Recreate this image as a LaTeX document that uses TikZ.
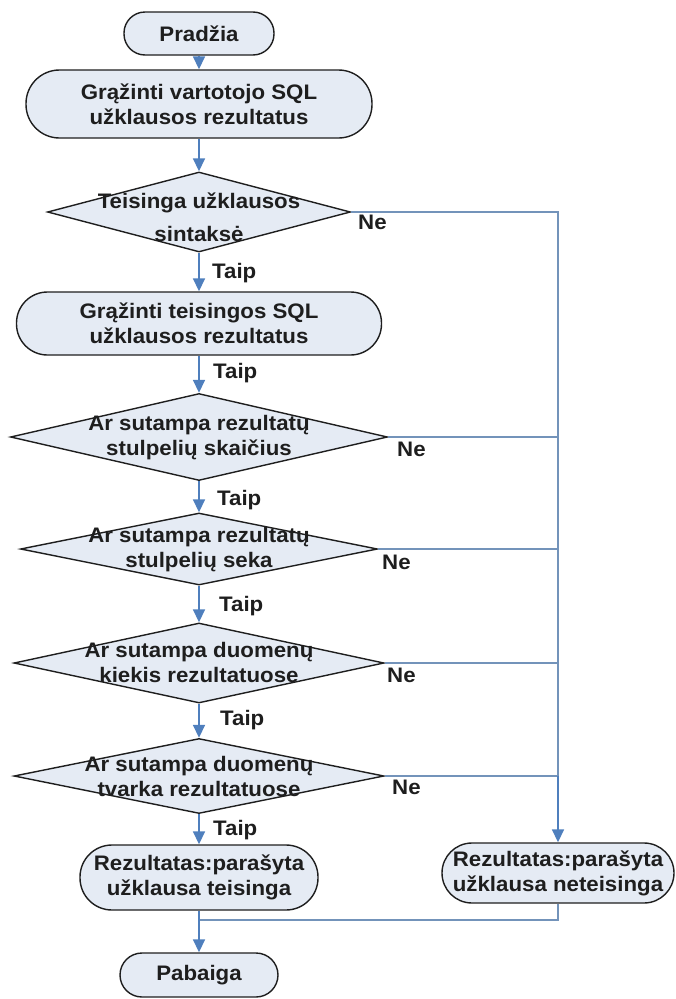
\documentclass[tikz,border=0pt]{standalone}
\usepackage{fontspec}
\setmainfont{Liberation Sans}[FakeStretch=1.06]
\usetikzlibrary{arrows.meta,shapes.geometric}

\definecolor{shapefill}{HTML}{E5EBF4}
\definecolor{flowblue}{HTML}{4F7FBD}
\definecolor{joinline}{HTML}{7393BA}
\definecolor{inkdark}{HTML}{1E1E1E}

\begin{document}
\begin{tikzpicture}[x=1pt,y=-1pt,
  every node/.style={font=\fontsize{21}{25}\selectfont\bfseries, text=inkdark},
  term/.style={draw=inkdark, line width=1.4pt, fill=shapefill, rectangle,
    rounded corners=#1, inner sep=0pt, align=center},
  dec/.style={draw=inkdark, line width=1.4pt, fill=shapefill, diamond,
    inner sep=0pt},
  dectext/.style={align=center, inner sep=0pt},
  lbl/.style={anchor=base west, inner sep=0pt},
  flow/.style={draw=flowblue, line width=1.7pt,
    -{Triangle[length=13pt,width=12pt]}},
  branchline/.style={draw=joinline, line width=1.3pt},
]
\useasboundingbox (0,0) rectangle (675,999);

% terminals and process boxes
\node[term=21pt, minimum width=150pt, minimum height=43pt] (start) at (199,33.5) {Pradžia};
\node[term=33.5pt, minimum width=346pt, minimum height=68pt] (b1) at (199,104)
  {Grąžinti vartotojo SQL\\užklausos rezultatus};

% first decision
\node[dec, minimum width=303pt, minimum height=80pt] (d1) at (199,212) {};
\node[dectext] (t1) at (199,217) {Teisinga užklausos\\[8pt]sintaksė};

\node[term=31pt, minimum width=365pt, minimum height=63pt] (b2) at (199,323.5)
  {Grąžinti teisingos SQL\\užklausos rezultatus};

% remaining decisions
\node[dec, minimum width=377pt, minimum height=87pt] (d2) at (199,437) {};
\node[dectext] (t2) at (199,438) {Ar sutampa rezultatų\\stulpelių skaičius};

\node[dec, minimum width=357pt, minimum height=72pt] (d3) at (199,549) {};
\node[dectext] (t3) at (199,550) {Ar sutampa rezultatų\\stulpelių seka};

\node[dec, minimum width=370pt, minimum height=80pt] (d4) at (199,663) {};
\node[dectext] (t4) at (199,662) {Ar sutampa duomenų\\kiekis rezultatuose};

\node[dec, minimum width=370pt, minimum height=75pt] (d5) at (199,776) {};
\node[dectext] (t5) at (199,776) {Ar sutampa duomenų\\tvarka rezultatuose};

% results and end
\node[term=32pt, minimum width=238pt, minimum height=65pt] (r1) at (199,877.5)
  {Rezultatas:parašyta\\užklausa teisinga};
\node[term=30pt, minimum width=232pt, minimum height=60pt] (r2) at (558,873)
  {Rezultatas:parašyta\\užklausa neteisinga};
\node[term=22pt, minimum width=158pt, minimum height=44pt] (end) at (199,975) {Pabaiga};

% main column
\draw[flow] (start) -- (b1);
\draw[flow] (b1) -- (d1);
\draw[flow] (d1) -- (b2);
\draw[flow] (b2) -- (d2);
\draw[flow] (d2) -- (d3);
\draw[flow] (d3) -- (d4);
\draw[flow] (d4) -- (d5);
\draw[flow] (d5) -- (r1);

% "Ne" branches gathered on the right rail
\coordinate (railtop) at (d1.east -| r2.north);
\coordinate (railend) at (d5.east -| r2.north);
\draw[branchline] (d1.east) -- (railtop) -- (railend);
\draw[branchline] (d2.east) -- (d2.east -| r2.north);
\draw[branchline] (d3.east) -- (d3.east -| r2.north);
\draw[branchline] (d4.east) -- (d4.east -| r2.north);
\draw[branchline] (d5.east) -- (railend);
\draw[flow] (railend) -- (r2.north);

% both results lead to the end
\coordinate (merge) at (199,920);
\draw[branchline] (r2.south) |- (merge);
\draw[flow] (r1.south) -- (end.north);

% branch labels
\node[lbl] (y1) at (212,278) {Taip};
\node[lbl] (y2) at (213,378) {Taip};
\node[lbl] (y3) at (217,505) {Taip};
\node[lbl] (y4) at (219,611) {Taip};
\node[lbl] (y5) at (220,725) {Taip};
\node[lbl] (y6) at (213,835) {Taip};

\node[lbl] (n1) at (358,229) {Ne};
\node[lbl] (n2) at (397,456) {Ne};
\node[lbl] (n3) at (382,569) {Ne};
\node[lbl] (n4) at (387,682) {Ne};
\node[lbl] (n5) at (392,794) {Ne};
\end{tikzpicture}
\end{document}
